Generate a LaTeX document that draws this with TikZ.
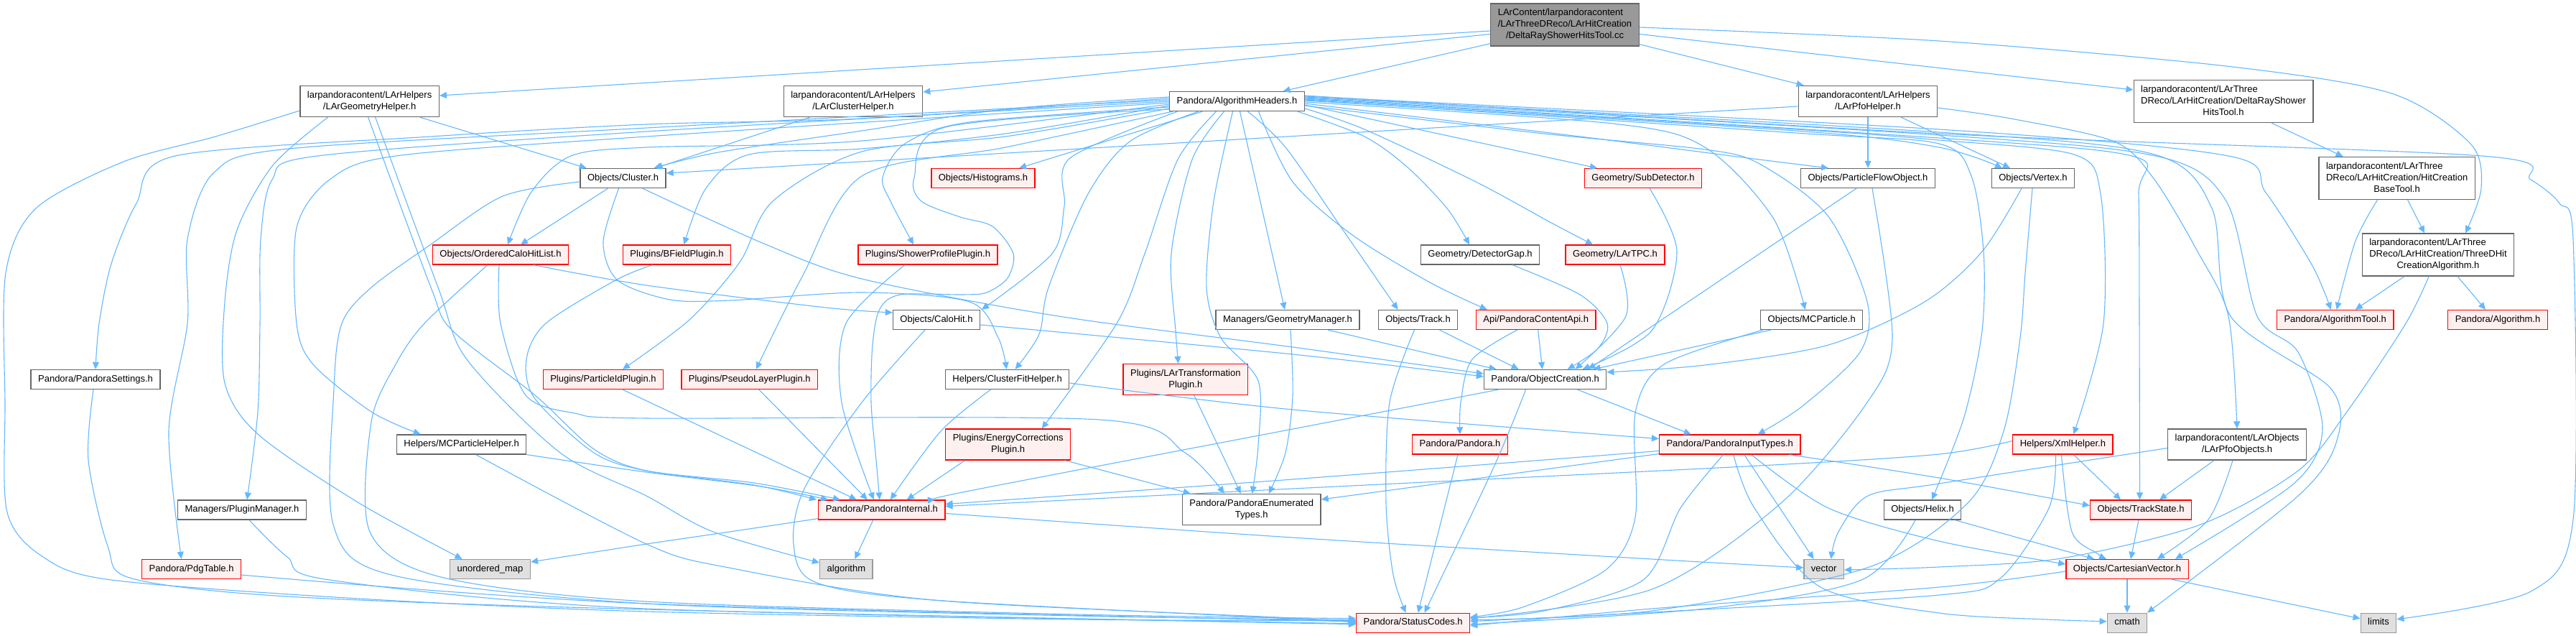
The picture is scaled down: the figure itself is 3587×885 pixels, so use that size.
\documentclass[tikz,border=0pt]{standalone}
\usepackage{fontspec}
\setmainfont{Liberation Sans}
\usetikzlibrary{arrows.meta}
\definecolor{edgec}{HTML}{63B8FF}
\definecolor{wbord}{HTML}{666666}
\definecolor{rbord}{HTML}{FF0000}
\definecolor{rfill}{HTML}{FFF0F0}
\definecolor{gfill}{HTML}{E0E0E0}
\definecolor{gbord}{HTML}{999999}
\definecolor{tfill}{HTML}{999999}
\newcommand{\mlines}[2]{\begin{tabular}{@{}l@{}}#1\\\multicolumn{1}{@{}c@{}}{#2}\end{tabular}}
\newcommand{\sline}[1]{\begin{tabular}{@{}c@{}}#1\end{tabular}}
\newcommand{\edgeplot}[1]{\draw[e] plot[smooth,tension=0.5] coordinates {#1};}
\begin{document}
\begin{tikzpicture}[x=1pt,y=-1pt,
 base/.style={rectangle, line width=1.3pt, inner xsep=10pt, inner ysep=5.5pt, font=\fontsize{13}{16}\selectfont},
 nw/.style={base, draw=wbord, fill=white},
 nr/.style={base, draw=rbord, fill=rfill},
 ng/.style={base, draw=gbord, fill=gfill},
 nt/.style={base, draw=wbord, fill=tfill},
 e/.style={draw=edgec, line width=1.1pt, -{Triangle[length=10pt,width=9pt]}}]
\fill[white] (0,0) rectangle (3587,885);
\useasboundingbox (0,0) rectangle (3587,885);
% nodes
\node[nt] (T) at (2179,34.5) {\mlines{LArContent/larpandoracontent\\/LArThreeDReco/LArHitCreation}{/DeltaRayShowerHitsTool.cc}};
\node[nw] (G) at (514.6,141) {\mlines{larpandoracontent/LArHelpers}{/LArGeometryHelper.h}};
\node[nw] (CH) at (1188,141) {\mlines{larpandoracontent/LArHelpers}{/LArClusterHelper.h}};
\node[nw] (AH) at (1722.5,141) {\sline{Pandora/AlgorithmHeaders.h}};
\node[nw] (PH) at (2601,141) {\mlines{larpandoracontent/LArHelpers}{/LArPfoHelper.h}};
\node[nw] (DH) at (3096,141) {\mlines{larpandoracontent/LArThree\\DReco/LArHitCreation/DeltaRayShower}{HitsTool.h}};
\node[nw] (CL) at (867.6,248) {\sline{Objects/Cluster.h}};
\node[nr] (HI) at (1369,248) {\sline{Objects/Histograms.h}};
\node[nr] (SD) at (2288,248) {\sline{Geometry/SubDetector.h}};
\node[nw] (PF) at (2601,248) {\sline{Objects/ParticleFlowObject.h}};
\node[nw] (VX) at (2831,248) {\sline{Objects/Vertex.h}};
\node[nw] (HB) at (3337.6,248) {\mlines{larpandoracontent/LArThree\\DReco/LArHitCreation/HitCreation}{BaseTool.h}};
\node[nr] (OC) at (697,354.5) {\sline{Objects/OrderedCaloHitList.h}};
\node[nr] (BF) at (942.5,354.5) {\sline{Plugins/BFieldPlugin.h}};
\node[nr] (SP) at (1292,354.5) {\sline{Plugins/ShowerProfilePlugin.h}};
\node[nw] (DG) at (2061,354.5) {\sline{Geometry/DetectorGap.h}};
\node[nr] (TP) at (2249,354.5) {\sline{Geometry/LArTPC.h}};
\node[nw] (TA) at (3395,354.5) {\mlines{larpandoracontent/LArThree\\DReco/LArHitCreation/ThreeDHit}{CreationAlgorithm.h}};
\node[nw] (CA) at (1304,445) {\sline{Objects/CaloHit.h}};
\node[nw] (GM) at (1793,445) {\sline{Managers/GeometryManager.h}};
\node[nw] (TR) at (1974.5,445) {\sline{Objects/Track.h}};
\node[nr] (API) at (2138.7,445) {\sline{Api/PandoraContentApi.h}};
\node[nw] (MP) at (2522.7,445) {\sline{Objects/MCParticle.h}};
\node[nr] (AT) at (3251.7,445) {\sline{Pandora/AlgorithmTool.h}};
\node[nr] (AL) at (3478,445) {\sline{Pandora/Algorithm.h}};
\node[nw] (PS) at (133,528) {\sline{Pandora/PandoraSettings.h}};
\node[nr] (PID) at (840,528) {\sline{Plugins/ParticleIdPlugin.h}};
\node[nr] (PL) at (1043.8,528) {\sline{Plugins/PseudoLayerPlugin.h}};
\node[nw] (CF) at (1402.6,528) {\sline{Helpers/ClusterFitHelper.h}};
\node[nr] (LT) at (1650.8,528) {\mlines{Plugins/LArTransformation}{Plugin.h}};
\node[nw] (OB) at (2151.6,528) {\sline{Pandora/ObjectCreation.h}};
\node[nw] (MH) at (642.6,618.5) {\sline{Helpers/MCParticleHelper.h}};
\node[nr] (EC) at (1403.7,618.5) {\mlines{Plugins/EnergyCorrections}{Plugin.h}};
\node[nr] (PA) at (2033,618.5) {\sline{Pandora/Pandora.h}};
\node[nr] (IT) at (2408.7,618.5) {\sline{Pandora/PandoraInputTypes.h}};
\node[nr] (XH) at (2872.4,618.5) {\sline{Helpers/XmlHelper.h}};
\node[nw] (PO) at (3115,618.5) {\mlines{larpandoracontent/LArObjects}{/LArPfoObjects.h}};
\node[nw] (PM) at (337,709.5) {\sline{Managers/PluginManager.h}};
\node[nr] (PI) at (1227.8,709.5) {\sline{Pandora/PandoraInternal.h}};
\node[nw] (ET) at (1742.7,709) {\mlines{Pandora/PandoraEnumerated}{Types.h}};
\node[nw] (HX) at (2677,709.5) {\sline{Objects/Helix.h}};
\node[nr] (TS) at (2981,709.5) {\sline{Objects/TrackState.h}};
\node[nr] (PT) at (266.6,792) {\sline{Pandora/PdgTable.h}};
\node[ng] (UM) at (682.5,792) {\sline{unordered\_map}};
\node[ng] (ALG) at (1178.4,792) {\sline{algorithm}};
\node[ng] (VE) at (2539.6,792) {\sline{vector}};
\node[nr] (CV) at (2962,792) {\sline{Objects/CartesianVector.h}};
\node[nr] (SC) at (1967.6,866.7) {\sline{Pandora/StatusCodes.h}};
\node[ng] (CM) at (2962,866.7) {\sline{cmath}};
\node[ng] (LI) at (3312,866.7) {\sline{limits}};
% edges from top node
\draw[e] ([yshift=-8.5pt]T.west) -- ([yshift=8pt]G.east);
\draw[e] ([yshift=-13pt]T.west) -- ([yshift=13pt]CH.east);
\draw[e] ([yshift=4pt]T.south west) -- ([xshift=64pt]AH.north);
\draw[e] ([yshift=3pt]T.south east) -- ([xshift=8pt]PH.north west);
\draw[e] ([yshift=-13pt]T.east) -- ([yshift=16pt]DH.west);
\edgeplot{([yshift=-3.5pt]T.east) (2700,57) (3100,92) (3330,130) (3440,200) (3455,262) ([xshift=38pt]TA.north)}
% LArGeometryHelper
\draw[e] ([xshift=70pt]G.south) -- ([xshift=-51pt]CL.north);
\edgeplot{([yshift=-13pt]G.west) (300,190) (172,225) (50,290) (8,380) (7,560) (10,713) (60,775) (155,807) (500,833) (900,851) (1500,862) ([yshift=3pt]SC.west)}
\edgeplot{([xshift=-58pt]G.south) (380,230) (330,320) (313,420) (313,533) (360,605) (500,700) ([xshift=-39pt]UM.north)}
\edgeplot{([xshift=-2pt]G.south) (600,400) (630,460) (745,550) (827,625) (900,655) (1050,672) ([xshift=31pt]PI.north west)}
\edgeplot{([xshift=8pt]G.south) (610,400) (650,500) (780,630) (900,690) (993,740) ([yshift=9pt]ALG.west)}
% LArClusterHelper
\draw[e] ([xshift=-60pt]CH.south) -- ([xshift=45pt]CL.north);
% AlgorithmHeaders to the left
\edgeplot{([yshift=6pt]AH.west) (1400,152) (1200,182) (1000,212) ([xshift=43pt]CL.north)}
\edgeplot{([yshift=4pt]AH.west) (1200,165) (900,173) (600,190) (244,217) (190,283) (155,367) (138,450) (PS.north)}
\edgeplot{([yshift=2pt]AH.west) (900,178) (402,207) (298,240) (261,333) (261,450) (235,600) ([xshift=-14pt]PT.north)}
\edgeplot{([yshift=0pt]AH.west) (900,183) (442,217) (379,250) (363,333) (362,450) (359,573) ([xshift=7pt]PM.north)}
\edgeplot{([yshift=-2pt]AH.west) (900,190) (551,217) (459,250) (413,317) (413,450) (436,507) (517,573) ([xshift=-57pt]MH.north)}
\edgeplot{([yshift=-4pt]AH.west) (1200,196) (900,205) (795,217) (740,267) ([xshift=10pt]OC.north)}
\edgeplot{([yshift=-6pt]AH.west) (1400,186) (1200,207) (1043,215) (983,262) ([xshift=10pt]BF.north)}
\edgeplot{([yshift=-8pt]AH.west) (1350,170) (1260,200) (1229,247) (1241,282) ([xshift=-20pt]SP.north)}
\edgeplot{([yshift=-10pt]AH.west) (1400,190) (1200,211) (1076,280) (1030,365) (960,445) ([xshift=27pt]PID.north)}
\edgeplot{([xshift=5pt]AH.south west) (1400,205) (1200,245) (1117,385) ([xshift=9pt]PL.north)}
\edgeplot{([yshift=-11pt]AH.west) (1316,177) (1273,247) (1283,280) (1337,302) (1382,315) (1411,353) (1403,387) (1374,407) (1341,410) (1254,410) (1225,430) (1215,480) (1213,560) (1220,640) ([xshift=-3pt]PI.north)}
% AlgorithmHeaders downwards
\draw[e] ([xshift=-48pt]AH.south) -- ([xshift=50pt]HI.north);
\edgeplot{([xshift=-83pt]AH.south) (1490,220) (1482,287) (1465,353) ([xshift=63pt]CA.north)}
\edgeplot{([xshift=-54pt]AH.south) (1573,197) (1515,270) (1460,400) (1447,465) ([xshift=11pt]CF.north)}
\edgeplot{([xshift=-29pt]AH.south) (1640,222) (1594,353) (1555,450) ([xshift=47pt]EC.north)}
\edgeplot{([xshift=-18pt]AH.south) (1660,222) (1631,353) (1637,460) ([xshift=-10pt]LT.north)}
\edgeplot{([xshift=-6pt]AH.south) (1690,280) (1680,400) (1700,470) (1752,530) (1752,620) ([xshift=1pt]ET.north)}
\draw[e] ([xshift=4pt]AH.south) -- ([xshift=-4pt]GM.north);
\edgeplot{([xshift=15pt]AH.south) (1790,205) (1870,320) ([xshift=-28pt]TR.north)}
\edgeplot{([xshift=30pt]AH.south) (1800,253) (1883,327) (1991,393) ([xshift=-68pt]API.north)}
\edgeplot{([xshift=-10pt]AH.south east) (1900,190) (1959,232) (2015,290) ([xshift=-15pt]DG.north)}
\edgeplot{([yshift=-10pt]AH.east) (1900,180) (2055,253) (2160,310) ([xshift=-31pt]TP.north)}
\draw[e] ([yshift=-5pt]AH.east) -- ([xshift=-64pt]SD.north);
\edgeplot{([yshift=-3pt]AH.east) (2200,190) (2450,222) ([xshift=-55pt]PF.north)}
\edgeplot{([yshift=-1pt]AH.east) (2246,172) (2374,205) (2470,305) ([xshift=-9pt]MP.north)}
\edgeplot{([yshift=-6pt]AH.east) (2150,186) (2374,208) (2450,228) (2545,300) (2600,420) (2590,490) (2510,565) ([xshift=39pt]IT.north)}
% AlgorithmHeaders to the right
\edgeplot{([yshift=1pt]AH.east) (2500,182) (2700,205) ([xshift=-43pt]VX.north)}
\edgeplot{([yshift=2pt]AH.east) (2500,185) (2700,200) (2745,245) (2762,350) (2760,460) (2735,580) ([xshift=13pt]HX.north)}
\edgeplot{([yshift=3pt]AH.east) (2500,180) (2700,195) (2888,215) (2925,270) (2929,450) ([xshift=15pt]XH.north)}
\edgeplot{([yshift=4pt]AH.east) (2700,192) (2972,218) (2978,270) (2979,450) ([xshift=-1.5pt]TS.north)}
\edgeplot{([yshift=5pt]AH.east) (2700,188) (3006,218) (3100,280) (3143,440) (3200,490) (3234,597) (3194,673) ([xshift=67pt]CV.north)}
\edgeplot{([yshift=6pt]AH.east) (2700,184) (3000,215) (3080,290) (3106,440) (3245,540) (3254,613) (3200,690) ([xshift=28pt]CM.north)}
\edgeplot{([yshift=7pt]AH.east) (2700,180) (3103,217) (3155,268) (3220,370) ([xshift=-6pt]AT.north)}
\edgeplot{([yshift=8pt]AH.east) (2700,186) (3456,217) (3524,250) (3564,283) (3583,333) (3583,723) (3524,823) ([yshift=5pt]LI.east)}
% LArPfoHelper
\draw[e] ([yshift=-7pt]PH.west) -- ([yshift=7pt]CL.east);
\draw[e] (PH.south) -- (PF.north);
\draw[e] ([xshift=46pt]PH.south) -- ([xshift=-32pt]VX.north);
\edgeplot{([yshift=-9pt]PH.east) (2800,165) (2944,197) (3000,250) (3060,350) (3103,440) (PO.north)}
% DeltaRay tool, base tool, algorithm
\draw[e] ([xshift=67pt]DH.south) -- ([xshift=-75pt]HB.north);
\draw[e] ([xshift=15pt]HB.south) -- ([xshift=-19pt]TA.north);
\edgeplot{([xshift=-27pt]HB.south) (3280,335) ([xshift=2pt]AT.north)}
\draw[e] ([xshift=-47pt]TA.south) -- ([xshift=28pt]AT.north);
\draw[e] ([xshift=27pt]TA.south) -- ([xshift=-17pt]AL.north);
\edgeplot{([xshift=-13pt]TA.south) (3350,450) (3268,573) (3200,655) (3064,730) (2870,777) (2700,789) ([yshift=-1pt]VE.east)}
% Cluster
\draw[e] ([xshift=-21pt]CL.south) -- ([xshift=28pt]OC.north);
\edgeplot{([yshift=-5pt]CL.west) (700,273) (600,340) (517,400) (476,450) (465,540) (464,730) (545,800) (900,840) (1500,857) ([yshift=4pt]SC.west)}
\edgeplot{([xshift=-6pt]CL.south) (840,337) (860,390) (933,417) (1017,418) (1200,407) (1350,420) (1390,470) ([xshift=-1pt]CF.north)}
\edgeplot{([xshift=27pt]CL.south) (1066,340) (1200,388) (1474,440) (1800,483) ([yshift=8pt]OB.west)}
% OrderedCaloHitList
\edgeplot{([xshift=46pt]OC.south) (900,397) (1150,428) ([yshift=-4pt]CA.north west)}
\edgeplot{([xshift=-18pt]OC.south) (591,450) (551,507) (517,587) (515,740) (614,803) (900,837) (1500,855) ([yshift=6pt]SC.west)}
\edgeplot{([xshift=-2pt]OC.south) (697,450) (732,550) (800,575) (900,582) (1531,584) (1650,630) ([xshift=-38pt]ET.north)}
% plugins
\edgeplot{([xshift=-34pt]BF.south) (857,390) (760,450) (733,500) (745,555) (827,630) (900,655) (1050,675) ([xshift=-2pt]PI.north west)}
\draw[e] ([xshift=27pt]PID.south) -- ([xshift=-35pt]PI.north);
\draw[e] ([xshift=13pt]PL.south) -- ([xshift=-20pt]PI.north);
\edgeplot{([xshift=-32pt]SP.south) (1178,450) (1172,560) ([xshift=-11pt]PI.north)}
\edgeplot{([xshift=-23pt]CF.south) (1310,600) ([xshift=12pt]PI.north)}
\edgeplot{([yshift=-5pt]CF.east) (1800,570) ([yshift=8pt]IT.west)}
\draw[e] ([xshift=-60pt]EC.south) -- ([xshift=35pt]PI.north);
\draw[e] ([xshift=79pt]EC.south) -- ([xshift=-85pt]ET.north);
\draw[e] ([xshift=12pt]LT.south) -- ([xshift=-15pt]ET.north);
\edgeplot{([xshift=4pt]GM.south) (1800,550) (1790,630) ([xshift=24pt]ET.north)}
\draw[e] ([xshift=56pt]GM.south) -- ([xshift=-68pt]OB.north);
% CaloHit
\edgeplot{([yshift=-7pt]CA.east) (1800,493) ([yshift=4pt]OB.west)}
\edgeplot{([xshift=-16pt]CA.south) (1200,560) (1120,680) (1105,757) (1135,810) (1300,835) (1800,861) ([yshift=1pt]SC.west)}
% middle row to ObjectCreation / StatusCodes
\draw[e] ([xshift=30pt]TR.south) -- ([xshift=-37pt]OB.north);
\edgeplot{([xshift=-5pt]TR.south) (1935,560) (1930,700) (1940,800) ([xshift=-10pt]SC.north)}
\draw[e] ([xshift=3pt]API.south) -- ([xshift=-4pt]OB.north);
\edgeplot{([xshift=-26pt]API.south) (2050,500) (2034,560) (PA.north)}
\edgeplot{([xshift=45pt]DG.south) (2200,410) (2238,450) (2225,485) ([xshift=31pt]OB.north)}
\edgeplot{([xshift=7pt]TP.south) (2264,440) ([xshift=42pt]OB.north)}
\edgeplot{([xshift=9pt]SD.south) (2335,350) (2300,460) ([xshift=52pt]OB.north)}
\draw[e] ([xshift=-16pt]PF.south) -- ([xshift=60pt]OB.north);
\draw[e] ([xshift=-57pt]MP.south) -- ([xshift=67pt]OB.north);
\edgeplot{([xshift=-68pt]MP.south) (2317,507) (2277,575) (2277,720) (2236,793) (2120,845) ([yshift=8pt]SC.east)}
\edgeplot{([xshift=-16pt]VX.south) (2760,350) (2680,420) (2546,480) (2374,508) ([yshift=10pt]OB.east)}
\edgeplot{([xshift=-1pt]VX.south) (2820,380) (2813,470) (2790,600) (2740,700) (2600,790) (2300,850) ([yshift=4pt]SC.east)}
\edgeplot{([xshift=6pt]PF.south) (2635,470) (2600,560) (2480,700) (2300,820) ([yshift=6pt]SC.east)}
% ObjectCreation
\draw[e] ([xshift=45pt]OB.south) -- ([xshift=-54pt]IT.north);
\edgeplot{([xshift=-27pt]OB.south) (2080,650) ([xshift=16pt]SC.north)}
\edgeplot{([xshift=-65pt]OB.south) (1800,597) (1350,683) ([xshift=74pt]PI.north)}
\draw[e] ([xshift=-3pt]PA.south) -- ([xshift=7pt]SC.north);
% PandoraInputTypes
\edgeplot{([yshift=-9pt]IT.west) (1800,667) ([yshift=8pt]PI.east)}
\edgeplot{([yshift=-13pt]IT.west) (2100,660) ([yshift=14pt]ET.east)}
\draw[e] ([xshift=20pt]IT.south) -- ([xshift=-14pt]VE.north);
\edgeplot{([xshift=-9pt]IT.south) (2340,707) (2288,807) (2150,850) ([yshift=7pt]SC.east)}
\edgeplot{([xshift=5pt]IT.south) (2443,707) (2535,817) (2700,853) (2850,862) ([yshift=2pt]CM.west)}
\edgeplot{([xshift=83pt]IT.south) (2700,665) ([yshift=6pt]TS.west)}
\edgeplot{([xshift=30pt]IT.south) (2546,707) (2700,753) ([yshift=7pt]CV.west)}
% XmlHelper
\edgeplot{([yshift=5pt]XH.west) (2700,632) (2450,648) (1800,680) ([yshift=5pt]PI.east)}
\draw[e] ([xshift=15pt]XH.south) -- ([xshift=-28pt]TS.north);
\edgeplot{([xshift=-2pt]XH.south) (2885,740) (2920,770) ([xshift=-29pt]CV.north)}
\edgeplot{([xshift=-10pt]XH.south) (2853,707) (2785,805) (2700,828) (2300,852) ([yshift=2pt]SC.east)}
% LArPfoObjects
\draw[e] ([xshift=-32pt]PO.south) -- ([xshift=26pt]TS.north);
\edgeplot{([xshift=-6pt]PO.south) (3075,723) ([xshift=42pt]CV.north)}
\edgeplot{([yshift=-5pt]PO.west) (2700,673) (2601,690) (2560,740) ([xshift=10pt]VE.north)}
% Helix, TrackState, CartesianVector
\draw[e] ([xshift=45pt]HX.south) -- ([xshift=-46pt]CV.north);
\edgeplot{([xshift=-10pt]HX.south) (2592,807) (2374,847) ([yshift=-2pt]SC.east)}
\draw[e] ([xshift=-3pt]TS.south) -- ([xshift=5pt]CV.north);
\draw[e] (CV.south) -- (CM.north);
\draw[e] ([xshift=62pt]CV.south) -- ([yshift=6pt]LI.west);
\edgeplot{([yshift=-3pt]CV.west) (2700,817) (2300,847) ([yshift=-4pt]SC.east)}
% PandoraInternal
\edgeplot{([yshift=2pt]PI.south west) (1016,740) (900,757) ([yshift=10pt]UM.east)}
\draw[e] ([xshift=-12pt]PI.south) -- ([xshift=12pt]ALG.north);
\edgeplot{([yshift=-5pt]PI.east) (1800,748) (2300,778) ([yshift=2pt]VE.west)}
% MCParticleHelper
\edgeplot{(MH.south east) (900,657) (1060,677) ([xshift=14pt]PI.north west)}
\edgeplot{([xshift=20pt]MH.south) (900,757) (1015,790) (1300,835) (1800,860) (SC.west)}
% left column
\edgeplot{([xshift=-3pt]PS.south) (123,640) (150,760) (184,805) (400,830) (900,848) ([yshift=-2pt]SC.west)}
\edgeplot{([xshift=10pt]PM.south) (400,775) (459,807) (900,847) ([yshift=-1pt]SC.west)}
\edgeplot{([yshift=-8pt]PT.east) (900,840) ([yshift=2pt]SC.west)}
\end{tikzpicture}
\end{document}
